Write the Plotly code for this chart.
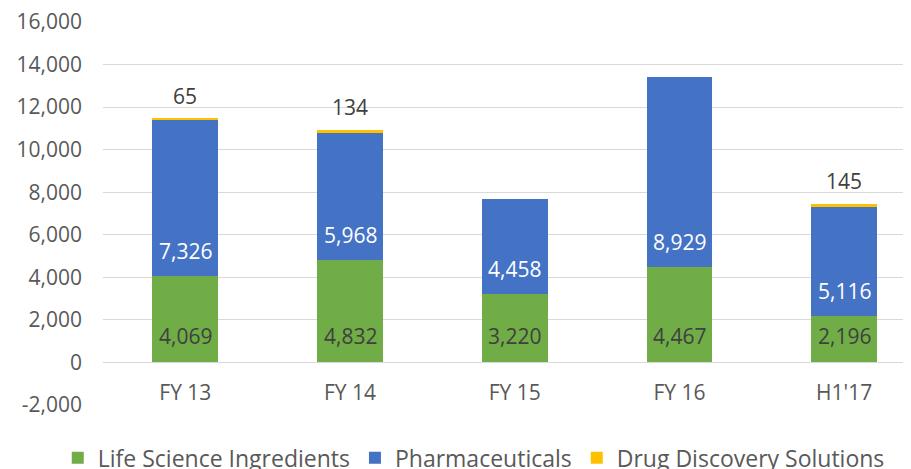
import plotly.graph_objects as go

categories = ["FY 13", "FY 14", "FY 15", "FY 16", "H1'17"]
life_science = [4069, 4832, 3220, 4467, 2196]
pharmaceuticals = [7326, 5968, 4458, 8929, 5116]
drug_discovery = [65, 134, None, None, 145]

y_ticks = list(range(-2000, 16001, 2000))
y_tick_text = [f"{v:,}" for v in y_ticks]

FONT = "Open Sans"
GRAY = "#595959"
DARK = "#404040"

fig = go.Figure()
fig.add_trace(go.Bar(x=categories, y=life_science, name="Life Science Ingredients",
                     marker=dict(color="#70AD47", line=dict(width=0))))
fig.add_trace(go.Bar(x=categories, y=pharmaceuticals, name="Pharmaceuticals",
                     marker=dict(color="#4472C4", line=dict(width=0))))
fig.add_trace(go.Bar(x=categories, y=[v if v is not None else 0 for v in drug_discovery],
                     name="Drug Discovery Solutions",
                     marker=dict(color="#FFC000", line=dict(width=0))))

annotations = []
for i, c in enumerate(categories):
    annotations.append(dict(x=c, y=0, text=f"{life_science[i]:,}", showarrow=False,
                            yanchor="middle", yshift=26,
                            font=dict(family=FONT, size=21, color=DARK)))
    annotations.append(dict(x=c, y=life_science[i], text=f"{pharmaceuticals[i]:,}", showarrow=False,
                            yanchor="middle", yshift=25,
                            font=dict(family=FONT, size=21, color="white")))
    if drug_discovery[i] is not None:
        total = life_science[i] + pharmaceuticals[i] + drug_discovery[i]
        annotations.append(dict(x=c, y=total, text=f"{drug_discovery[i]:,}", showarrow=False,
                                yanchor="middle", yshift=23,
                                font=dict(family=FONT, size=21, color=DARK)))

fig.update_layout(
    width=911, height=469,
    margin=dict(l=95, r=8, t=14, b=72, autoexpand=False),
    barmode="stack", bargap=0.6,
    plot_bgcolor="white", paper_bgcolor="white",
    font=dict(family=FONT, size=21, color=GRAY),
    showlegend=True,
    legend=dict(orientation="h", xref="paper", yref="paper",
                x=-0.056, xanchor="left", y=-0.138, yanchor="middle",
                font=dict(family=FONT, size=23, color=GRAY),
                itemwidth=30, tracegroupgap=0,
                itemclick=False, traceorder="normal"),
    annotations=annotations,
    xaxis=dict(range=[-0.5, 4.406], anchor="free", position=0.111,
               showline=False, ticks="", showgrid=False, automargin=False,
               tickfont=dict(family=FONT, size=21, color=GRAY),
               ticklabelstandoff=16),
    yaxis=dict(range=[-2001, 16001], tickvals=y_ticks, ticktext=y_tick_text,
               showgrid=True, gridcolor="#D9D9D9", gridwidth=1.3,
               zeroline=False, showline=False, ticks="", automargin=False,
               ticklabeloverflow="allow",
               tickfont=dict(family=FONT, size=21, color=GRAY),
               ticklabelstandoff=20),
)

fig.write_html("out.html")
